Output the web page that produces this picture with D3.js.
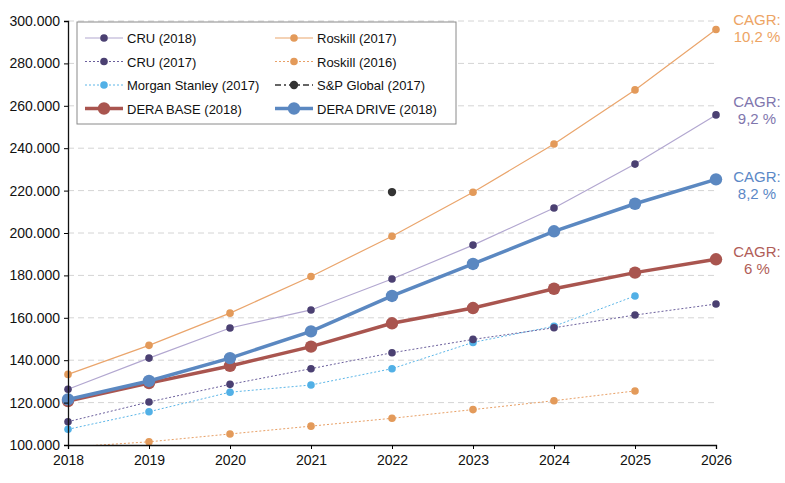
<!DOCTYPE html>
<meta charset="utf-8">
<head>
    <script src="https://d3js.org/d3.v7.min.js"></script>
    <style>
        body { margin: 0; background: #fff; font-family: "Liberation Sans", Arial, sans-serif; }
        .tick text { font-family: "Liberation Sans", Arial, sans-serif; font-size: 14px; fill: #111; }
    </style>
</head>
<body>
<div id="my_dataviz"></div>
</body>

<script>

    // years on the x axis
    var years = [2018, 2019, 2020, 2021, 2022, 2023, 2024, 2025, 2026];

    // values in thousand tonnes, null = no value
    var cru2018 = [126.3, 141, 155.2, 163.7, 178.3, 194.3, 211.8, 232.5, 255.7];
    var roskill2017 = [133.3, 147, 162.2, 179.5, 198.5, 219.2, 242, 267.5, 296];
    var cru2017 = [111, 120.3, 128.6, 136, 143.5, 149.8, 155.3, 161.3, 166.5];
    var roskill2016 = [99, 101.5, 105.2, 108.9, 112.6, 116.7, 120.9, 125.5, null];
    var morganStanley2017 = [107.4, 115.7, 124.9, 128.3, 136, 148.4, 156, 170.3, null];
    var spGlobal2017 = [null, null, null, null, 219.3, null, null, null, null];
    var deraBase2018 = [120.7, 129.2, 137.3, 146.4, 157.4, 164.6, 173.7, 181.3, 187.6];
    var deraDrive2018 = [121.5, 130.2, 141, 153.6, 170.3, 185.4, 200.8, 213.8, 225.3];

    var yTicks = [100, 120, 140, 160, 180, 200, 220, 240, 260, 280, 300];

    var cagrLabels = ["10,2 %", "9,2 %", "8,2 %", "6 %"];

    // set the dimensions and margins of the graph
    var margin = {top: 21, right: 69, bottom: 38, left: 68},
        width = 785 - margin.left - margin.right,
        height = 483 - margin.top - margin.bottom;

    var svg = d3.select("#my_dataviz")
        .append("svg")
        .attr("width", width + margin.left + margin.right)
        .attr("height", height + margin.top + margin.bottom)
        .append("g")
        .attr("transform", "translate(" + margin.left + "," + margin.top + ")");

    var x = d3.scaleLinear()
        .domain([2018, 2026])
        .range([0, width]);

    var y = d3.scaleLinear()
        .domain([100, 300])
        .range([height, 0]);

    // dashed grid lines
    svg.append("g")
        .selectAll("line")
        .data(yTicks.slice(1))
        .enter().append("line")
        .attr("x1", 0)
        .attr("x2", width)
        .attr("y1", function(d) { return y(d); })
        .attr("y2", function(d) { return y(d); })
        .style("stroke", "#d4d4d4")
        .style("stroke-dasharray", "6,4")
        .style("stroke-width", 1);

    var series = [
        {name: "Roskill (2016)", values: roskill2016, line: "#e8a066", dot: "#e39a5a", w: 1, dash: "2,2", r: 3.8},
        {name: "Morgan Stanley (2017)", values: morganStanley2017, line: "#5cb6e8", dot: "#52b0e6", w: 1, dash: "2,2", r: 3.8},
        {name: "CRU (2017)", values: cru2017, line: "#6b5f9c", dot: "#4b4072", w: 1, dash: "2,2", r: 3.8},
        {name: "CRU (2018)", values: cru2018, line: "#b2a7d0", dot: "#4b4072", w: 1.2, dash: null, r: 3.8},
        {name: "Roskill (2017)", values: roskill2017, line: "#eaa56c", dot: "#e39a5a", w: 1.2, dash: null, r: 3.8},
        {name: "S&P Global (2017)", values: spGlobal2017, line: "#333333", dot: "#333333", w: 1.5, dash: "6,3,2,3", r: 4.2},
        {name: "DERA BASE (2018)", values: deraBase2018, line: "#a9554f", dot: "#a9554f", w: 3.5, dash: null, r: 6.2},
        {name: "DERA DRIVE (2018)", values: deraDrive2018, line: "#5b88c1", dot: "#5b88c1", w: 3.5, dash: null, r: 6.2}
    ];

    svg.append("clipPath")
        .attr("id", "plotclip")
        .append("rect")
        .attr("x", -10)
        .attr("y", -10)
        .attr("width", width + 20)
        .attr("height", height + 10);

    var line = d3.line()
        .defined(function(d) { return d[1] != null; })
        .x(function(d) { return x(d[0]); })
        .y(function(d) { return y(d[1]); });

    var plot = svg.append("g").attr("clip-path", "url(#plotclip)");

    series.forEach(function(s) {
        var pts = years.map(function(yr, i) { return [yr, s.values[i]]; });
        plot.append("path")
            .datum(pts)
            .attr("fill", "none")
            .attr("stroke", s.line)
            .attr("stroke-width", s.w)
            .attr("stroke-dasharray", s.dash)
            .attr("d", line);
        plot.selectAll(null)
            .data(pts.filter(function(d) { return d[1] != null && d[1] >= 100; }))
            .enter().append("circle")
            .attr("cx", function(d) { return x(d[0]); })
            .attr("cy", function(d) { return y(d[1]); })
            .attr("r", s.r)
            .style("fill", s.dot);
    });

    // axes
    svg.append("g")
        .call(d3.axisLeft(y).tickValues(yTicks).tickSize(4).tickPadding(4)
            .tickFormat(function(d) { return d3.format(",")(d * 1000).replace(/,/g, "."); }))
        .call(function(g) { g.select(".domain").attr("stroke", "#111").attr("stroke-width", 1.3); });

    svg.append("g")
        .attr("transform", "translate(0," + height + ")")
        .call(d3.axisBottom(x).tickValues(years).tickSize(4).tickPadding(6).tickFormat(d3.format("d")))
        .call(function(g) { g.select(".domain").attr("stroke", "#111").attr("stroke-width", 1.3); });

    // CAGR labels at the right end
    var cagrSeries = [roskill2017, cru2018, deraDrive2018, deraBase2018];
    var cagrColors = ["#eda464", "#8076ad", "#5b88c6", "#b05d57"];
    var cagrOffset = [-4, -8, 3, -2];

    cagrSeries.forEach(function(vals, i) {
        var yy = y(vals[vals.length - 1]) + cagrOffset[i];
        var t = svg.append("text")
            .attr("x", width + 40)
            .attr("y", yy)
            .style("text-anchor", "middle")
            .style("font-size", "15px")
            .style("fill", cagrColors[i]);
        t.append("tspan").attr("x", width + 41).text("CAGR:");
        t.append("tspan").attr("x", width + 41).attr("dy", 17).text(cagrLabels[i]);
    });

    // legend
    var legendOrder = ["CRU (2018)", "Roskill (2017)", "CRU (2017)", "Roskill (2016)",
        "Morgan Stanley (2017)", "S&P Global (2017)", "DERA BASE (2018)", "DERA DRIVE (2018)"];

    var legend = svg.append("g")
        .attr("class", "legend")
        .attr("transform", "translate(9, 1)");

    legend.append("rect")
        .attr("width", 379)
        .attr("height", 102)
        .style("fill", "#fff")
        .style("stroke", "#8a8a8a")
        .style("stroke-width", 1);

    legendOrder.forEach(function(name, i) {
        var s = series.find(function(d) { return d.name === name; });
        var col = i % 2, row = Math.floor(i / 2);
        var gx = col === 0 ? 8 : 198;
        var gy = 16 + row * 23.5;
        var lg = legend.append("g").attr("transform", "translate(" + gx + "," + gy + ")");
        lg.append("line")
            .attr("x1", 0).attr("x2", 38)
            .attr("y1", 0).attr("y2", 0)
            .attr("stroke", s.line)
            .attr("stroke-width", s.w)
            .attr("stroke-dasharray", s.dash);
        lg.append("circle")
            .attr("cx", 19).attr("cy", 0)
            .attr("r", s.r)
            .style("fill", s.dot);
        lg.append("text")
            .attr("x", 42)
            .attr("y", 5)
            .text(name)
            .style("font-size", "13px")
            .style("fill", "#111");
    });

</script>
